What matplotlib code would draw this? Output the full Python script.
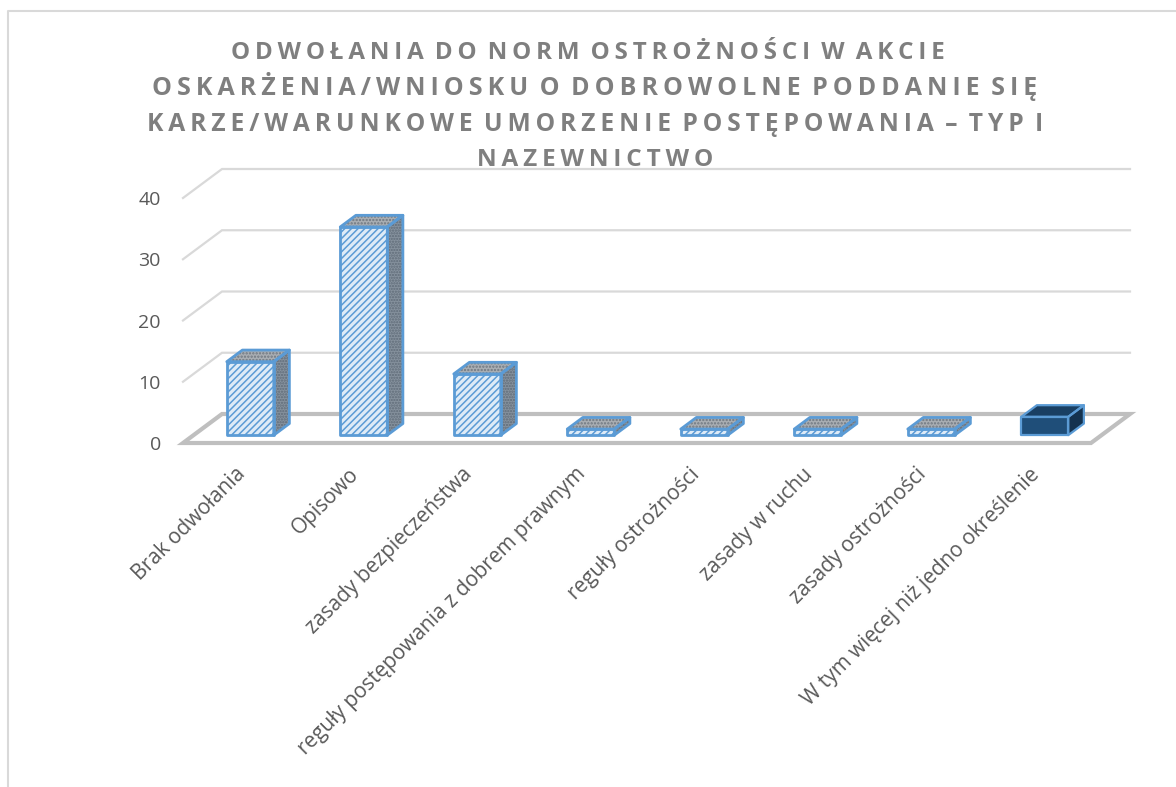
import matplotlib
matplotlib.use('Agg')
import matplotlib.pyplot as plt
from matplotlib.patches import Polygon
from matplotlib.transforms import ScaledTranslation

# --------- Data ---------

categories = ['Brak odwołania', 'Opisowo', 'zasady bezpieczeństwa',
              'reguły postępowania z dobrem prawnym', 'reguły ostrożności',
              'zasady w ruchu', 'zasady ostrożności',
              'W tym więcej niż jedno określenie']
values = [12, 34, 10, 1, 1, 1, 1, 3]
y_ticks = [0, 10, 20, 30, 40]
title_lines = ['ODWOŁANIA DO NORM OSTROŻNOŚCI W AKCIE',
               'OSKARŻENIA/WNIOSKU O DOBROWOLNE PODDANIE SIĘ',
               'KARZE/WARUNKOWE UMORZENIE POSTĘPOWANIA – TYP I',
               'NAZEWNICTWO']

# --------- Style ---------

W, H = 1176, 787
plt.rcParams['font.family'] = ['Open Sans', 'DejaVu Sans']
plt.rcParams['hatch.linewidth'] = 1.1

BLUE = '#5b9bd5'
GRID = '#d9d9d9'
FLOOR = '#bfbfbf'
TEXT = '#595959'

# oblique depth of the floor, in data units
DX = 39 / 113.5
DY = 29 / 6.125
D0, D1 = 0.27, 0.67
HALF = 0.207

fig = plt.figure(figsize=(W / 100, H / 100), dpi=100)
ax = fig.add_axes([183 / W, (H - 443) / H, 908 / W, 245 / H])
ax.set_xlim(-0.5, 7.5)
ax.set_ylim(0, 40)
for s in ax.spines.values():
    s.set_visible(False)
ax.patch.set_alpha(0)

# --------- Outer frame ---------

fig.add_artist(plt.Line2D([7.5 / W, 7.5 / W, 1], [0, (H - 11) / H, (H - 11) / H],
                          color=GRID, lw=1.5, transform=fig.transFigure))

# --------- Walls and floor ---------

for t in y_ticks[1:]:
    ax.plot([-0.5, -0.5 + DX, 7.5 + DX], [t, t + DY, t + DY], color=GRID, lw=1.6,
            clip_on=False, zorder=1, solid_joinstyle='miter')
ax.add_patch(Polygon([(-0.5, 0), (-0.5 + DX, DY), (7.5 + DX, DY), (7.5, 0)], closed=True,
                     fill=False, edgecolor=FLOOR, lw=3, clip_on=False, zorder=2))


# --------- Bars ---------

def draw_bar(i, v):
    dark = i == len(values) - 1
    l, r = i - HALF + D0 * DX, i + HALF + D0 * DX
    y0 = D0 * DY
    sx, sy = (D1 - D0) * DX, (D1 - D0) * DY
    front = [(l, y0), (r, y0), (r, y0 + v), (l, y0 + v)]
    top = [(l, y0 + v), (r, y0 + v), (r + sx, y0 + v + sy), (l + sx, y0 + v + sy)]
    side = [(r, y0), (r + sx, y0 + sy), (r + sx, y0 + v + sy), (r, y0 + v)]
    if dark:
        styles = [(side, '#14324f', None, None), (top, '#193f63', None, None),
                  (front, '#1f4e79', None, None)]
    else:
        styles = [(side, '#86929e', '#5f6b78', '......'), (top, '#a9aeb3', '#6f7780', '.....'),
                  (front, '#deebf7', BLUE, '/////')]
    for pts, fc, hc, hatch in styles:
        ax.add_patch(Polygon(pts, closed=True, facecolor=fc, edgecolor=hc if hc else fc,
                             hatch=hatch, lw=0, clip_on=False, zorder=3))
        ax.add_patch(Polygon(pts, closed=True, fill=False, edgecolor=BLUE, lw=1.6 if dark else 2,
                             clip_on=False, zorder=4, joinstyle='round'))


for i, v in enumerate(values):
    draw_bar(i, v)

# --------- Axis labels ---------

ax.set_yticks(y_ticks)
ax.set_yticklabels(y_ticks, fontsize=14, color=TEXT)
ax.set_xticks(range(len(categories)))
ax.set_xticklabels(categories, rotation=45, ha='right', va='top', rotation_mode='anchor',
                   fontsize=15, color=TEXT)
ax.tick_params(axis='both', length=0)
ax.tick_params(axis='y', pad=16)
ax.tick_params(axis='x', pad=15)

# labels sit a little left of their bars
shift = ScaledTranslation(-5 / 100, 0, fig.dpi_scale_trans)
for lbl in ax.get_xticklabels():
    lbl.set_transform(lbl.get_transform() + shift)

# --------- Title, letter spaced with thin spaces ---------

title_base = [59, 95, 131, 166]
title_x = [588, 595, 595, 595]
title_size = [17.4, 18, 17.7, 17.5]
for line, x, y, size in zip(title_lines, title_x, title_base, title_size):
    spaced = '\u2009'.join(line).replace('\u2009 \u2009', ' \u2009')
    fig.text(x / W, (H - y) / H, spaced, ha='center', va='baseline', fontsize=size,
             fontweight='bold', color='#7f7f7f')

plt.savefig('out.png', dpi=100)
